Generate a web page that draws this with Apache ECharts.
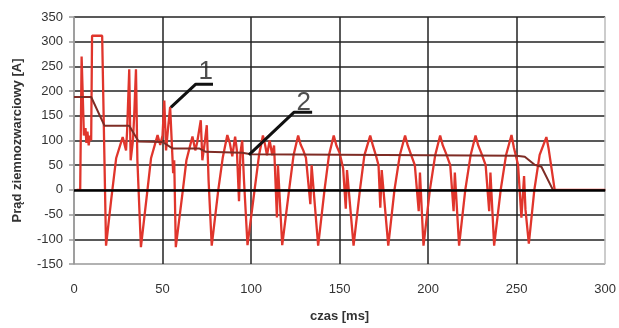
<!DOCTYPE html>
<html>
<head>
<meta charset="utf-8">
<script src="https://cdn.jsdelivr.net/npm/echarts@6/dist/echarts.min.js"></script>
<style>html,body{margin:0;padding:0;background:#fff}#c{width:619px;height:328px}</style>
</head>
<body>
<div id="c"></div>
<script>
// ---- data ----
const xTicks = [0, 50, 100, 150, 200, 250, 300];
const yTicks = [-150, -100, -50, 0, 50, 100, 150, 200, 250, 300, 350];

// curve 1: instantaneous earth-fault current (red)
const redTime = [1.5,3.5,4.3,5,5.6,6.5,7,7.6,8.3,9,9.7,10.2,15.9,18.1,21,23.8,27.5,29.4,30,31.2,32,33.3,34,35,35.8,37.8,
  41.5,43.5,47.2,48.7,50,51,52,53,54.3,55.3,56,56.6,57.5,
  61.5,63.5,66.9,68.5,69.5,71.6,72.5,74,75,76,77.8,
  81.5,84,86.6,88,89.4,91,92,93.2,94,95,96,98,
  102,104.5,106.7,108,109,110.5,112,113,114.6,115.2,117.6,
  121.5,124,126.6,128,129.5,131,133.5,134.2,137.9,
  141.5,144,146.7,148.2,150,152,153.5,154.2,157.9,
  161.5,164,167.3,168.8,170.5,172,173,173.8,177.5,
  181,184,187,188.5,190,192.5,194.7,195.4,197.4,
  201,204,206.8,208.3,210,212.5,214.4,215.1,217.5,
  221,224,226.8,228.3,230,232.5,234.5,235.2,237.3,
  241,244,247.1,248.5,250.8,252.7,254.2,255,256.9,
  260,263,266.8,268,271.5,300];
const redCurrent = [0,0,270,272,110,125,95,118,90,110,100,312,312,-113,-20,64,107,80,120,244,60,100,150,244,60,-116,
  0,64,111,91,110,181,80,120,168,90,34,60,-116,
  0,60,108,80,95,141,60,100,131,20,-113,
  0,65,111,95,68,108,80,-23,75,100,20,-112,
  0,70,110,90,70,100,70,90,-56,50,-112,
  0,70,110,92,80,65,-29,50,-113,
  0,70,110,90,75,44,-38,40,-113,
  0,70,110,90,70,50,-36,40,-113,
  0,70,110,90,75,50,-43,35,-113,
  0,70,110,90,75,50,-43,35,-113,
  0,70,110,90,75,50,-43,35,-113,
  0,70,111,85,51,-56,28,-40,-109,
  0,71,107,85,0,0];

// curve 2: RMS-like envelope (dark red)
const darkTime = [0, 9.7, 17.2, 31.2, 36.5, 50, 55.6, 70.7, 74.4, 95, 100, 250, 254.6, 260.2, 264, 270.5, 300];
const darkCurrent = [188, 188, 130, 130, 98, 97, 84, 84, 77, 75, 72, 69, 67, 51, 47, 0, 0];

// annotation leaders and labels
const ann1Time = [54.7, 68.8, 78.5];
const ann1Value = [167, 214, 214];
const ann2Time = [98.8, 124.2, 134.5];
const ann2Value = [71, 157, 157];
const annLabels = ['1', '2'];
const annLabelTime = [74.4, 129.8];
const annLabelValue = [240, 177];

const xName = 'czas [ms]';
const yName = 'Prąd ziemnozwarciowy [A]';

const zip = (a, b) => a.map((v, i) => [v, b[i]]);

const chart = echarts.init(document.getElementById('c'), null, {renderer: 'canvas'});
const font = 'Liberation Sans, Arial, sans-serif';
chart.setOption({
  animation: false,
  backgroundColor: '#fff',
  grid: {left: 74, right: 12, top: 17, bottom: 61, containLabel: false},
  xAxis: {
    type: 'value', min: xTicks[0], max: xTicks[xTicks.length - 1], interval: 50,
    name: xName, nameLocation: 'middle', nameGap: 46,
    nameTextStyle: {fontFamily: font, fontSize: 13, fontWeight: 'bold', color: '#333'},
    axisLine: {show: true, lineStyle: {color: '#999', width: 1.5}},
    axisTick: {show: false},
    axisLabel: {fontFamily: font, fontSize: 13, color: '#333', margin: 19},
    splitLine: {show: true, lineStyle: {color: ['#999', '#222', '#222', '#222', '#222', '#222', '#bbb'], width: 1.5}}
  },
  yAxis: {
    type: 'value', min: yTicks[0], max: yTicks[yTicks.length - 1], interval: 50,
    name: yName, nameLocation: 'middle', nameGap: 50, nameRotate: 90,
    nameTextStyle: {fontFamily: font, fontSize: 13, fontWeight: 'bold', color: '#333'},
    axisLine: {show: true, onZero: false, lineStyle: {color: '#999', width: 1.5}},
    axisTick: {show: true, inside: false, length: 5, lineStyle: {color: '#999', width: 1.5}},
    axisLabel: {fontFamily: font, fontSize: 13, color: '#333', margin: 11},
    splitLine: {show: true, lineStyle: {color: ['#999', '#222', '#222', '#222', '#222', '#222', '#222', '#222', '#222', '#222', '#222'], width: 1.5}}
  },
  series: [
    {
      type: 'line', name: 'zero', data: [], z: 1, silent: true,
      markLine: {symbol: 'none', silent: true, label: {show: false},
        lineStyle: {color: '#000', width: 2.5, type: 'solid'}, data: [{yAxis: 0}]}
    },
    {
      type: 'line', name: '1', data: zip(redTime, redCurrent), showSymbol: false, z: 3,
      lineStyle: {color: '#e0352c', width: 2.3}
    },
    {
      type: 'line', name: '2', data: zip(darkTime, darkCurrent), showSymbol: false, z: 4,
      lineStyle: {color: '#7e2c25', width: 2}
    },
    {
      type: 'line', data: zip(ann1Time, ann1Value), showSymbol: false, z: 5,
      lineStyle: {color: '#111', width: 3}
    },
    {
      type: 'line', data: zip(ann2Time, ann2Value), showSymbol: false, z: 5,
      lineStyle: {color: '#111', width: 3}
    },
    {
      type: 'scatter', symbolSize: 0, z: 6,
      data: annLabels.map((t, i) => ({value: [annLabelTime[i], annLabelValue[i]], name: t})),
      label: {show: true, position: 'inside', formatter: p => p.name,
        fontFamily: font, fontSize: 26, color: '#222'}
    }
  ]
});
</script>
</body>
</html>
